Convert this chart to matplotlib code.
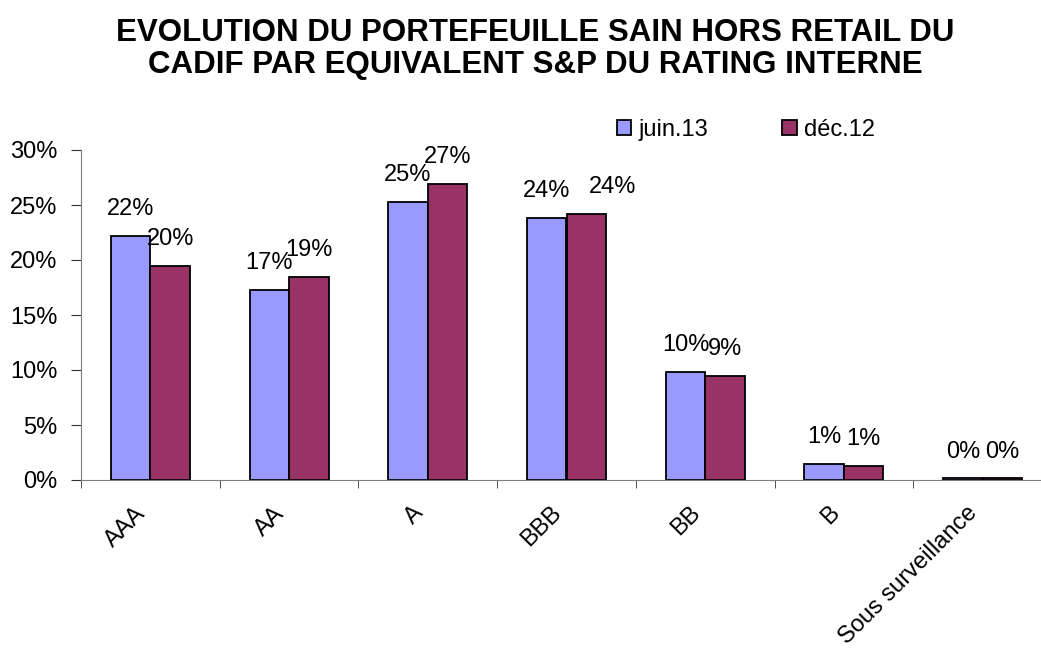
import numpy as np
import matplotlib
matplotlib.use("Agg")
import matplotlib.pyplot as plt
from matplotlib.ticker import PercentFormatter
from matplotlib.transforms import ScaledTranslation

plt.rcParams['font.family'] = ['Liberation Sans', 'DejaVu Sans']

# Data
categories = ["AAA", "AA", "A", "BBB", "BB", "B", "Sous surveillance"]
juin13 = [22.2, 17.3, 25.3, 23.8, 9.8, 1.45, 0.15]
dec12 = [19.5, 18.5, 26.9, 24.2, 9.45, 1.25, 0.15]
series_names = ["juin.13", "déc.12"]
label_juin = ["22%", "17%", "25%", "24%", "10%", "1%", "0%"]
label_dec = ["20%", "19%", "27%", "24%", "9%", "1%", "0%"]

blue = "#9999FF"
plum = "#993366"

fig = plt.figure(figsize=(10.41, 6.52), dpi=100)
# axes extends a bit past the right edge, like the original export
ax = fig.add_axes([81 / 1041, 1 - 480 / 652, (1052 - 81) / 1041, 330 / 652])

x = np.arange(len(categories))
w = 0.285
b1 = ax.bar(x - w / 2, juin13, w, color=blue, edgecolor="black", linewidth=1.3, label=series_names[0])
b2 = ax.bar(x + w / 2, dec12, w, color=plum, edgecolor="black", linewidth=1.3, label=series_names[1])

# the BBB déc.12 label sits a bit to the right in the original
nudge = {(1, 3): 19}
for k, (rects, labels) in enumerate(((b1, label_juin), (b2, label_dec))):
    for i, (r, lab) in enumerate(zip(rects, labels)):
        ax.annotate(lab, (r.get_x() + r.get_width() / 2, r.get_height()),
                    xytext=(nudge.get((k, i), 0), 15), textcoords="offset points",
                    ha="center", va="baseline", fontsize=17)

ax.set_xlim(-0.5, len(categories) - 0.5)
ax.set_ylim(0, 30)
ax.set_yticks(np.arange(0, 31, 5))
ax.yaxis.set_major_formatter(PercentFormatter(decimals=0))

ax.set_xticks(x)
ax.set_xticklabels(categories, rotation=45, ha="right", va="top", rotation_mode="anchor")
ax.set_xticks(np.arange(-0.5, len(categories), 1), minor=True)
ax.tick_params(axis="x", which="major", length=0, pad=16, labelsize=17)
ax.tick_params(axis="x", which="minor", length=6, color="#333333")
ax.tick_params(axis="y", length=7, pad=10, labelsize=17, color="#333333")
shift = ScaledTranslation(-16 / 100, 0, fig.dpi_scale_trans)
for lab in ax.get_xticklabels():
    lab.set_transform(lab.get_transform() + shift)

for s in ("top", "right"):
    ax.spines[s].set_visible(False)
for s in ("left", "bottom"):
    ax.spines[s].set_color("#7f7f7f")

fig.suptitle("EVOLUTION DU PORTEFEUILLE SAIN HORS RETAIL DU\nCADIF PAR EQUIVALENT S&P DU RATING INTERNE",
             x=535 / 1041, y=1 - 18 / 652, va="top", fontsize=22.5, fontweight="bold", linespacing=1.08)

fig.legend(loc="upper left", bbox_to_anchor=(617 / 1041, 1 - 119 / 652), ncol=2, frameon=False,
           fontsize=17, handlelength=0.6, handleheight=0.6, handletextpad=0.3, columnspacing=3.15,
           borderpad=0, borderaxespad=0)

fig.savefig("out.png", dpi=100)
